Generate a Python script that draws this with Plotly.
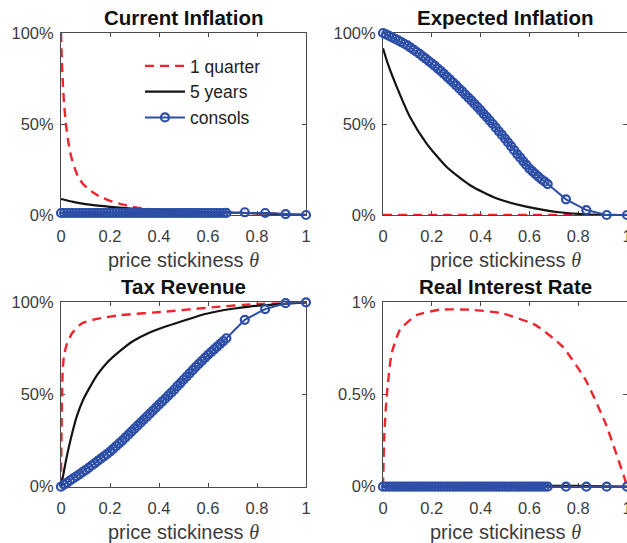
import plotly.graph_objects as go

# ---------------- data ----------------
PANEL_TITLES = ["Current Inflation", "Expected Inflation", "Tax Revenue", "Real Interest Rate"]
SERIES_NAMES = ["1 quarter", "5 years", "consols"]
X_TICKS = [0, 0.2, 0.4, 0.6, 0.8, 1]
X_TICK_TEXT = ["0", "0.2", "0.4", "0.6", "0.8", "1"]
Y_TICKS = [0, 0.5, 1]
Y_TICK_TEXT_SHARE = ["0%", "50%", "100%"]
Y_TICK_TEXT_RATE = ["0%", "0.5%", "1%"]

# 1 quarter debt
Q1_CUR_X = [0, 0.003, 0.007, 0.012, 0.02, 0.03, 0.04, 0.055, 0.07, 0.09, 0.11, 0.13, 0.16, 0.2,
            0.25, 0.3, 0.35, 0.4, 0.5, 0.6, 0.7, 0.8, 0.9, 1.0]
Q1_CUR_Y = [1.0, 0.86, 0.74, 0.62, 0.50, 0.40, 0.33, 0.26, 0.21, 0.17, 0.145, 0.125, 0.10, 0.078,
            0.058, 0.043, 0.033, 0.027, 0.02, 0.016, 0.013, 0.01, 0.006, 0.0]
Q1_EXP_X = [0, 0.25, 0.5, 0.75, 1.0]
Q1_EXP_Y = [0, 0, 0, 0, 0]
Q1_TAX_X = [0, 0.002, 0.004, 0.007, 0.012, 0.023, 0.044, 0.084, 0.146, 0.24, 0.43, 0.635, 0.785,
            0.9, 1.0]
Q1_TAX_Y = [0, 0.30, 0.50, 0.63, 0.71, 0.77, 0.83, 0.885, 0.91, 0.93, 0.95, 0.975, 0.99, 0.995, 1.0]
Q1_RIR_X = [0, 0.002, 0.005, 0.015, 0.035, 0.069, 0.137, 0.233, 0.355, 0.49, 0.627, 0.736, 0.83,
            0.913, 0.988, 1.0]
Q1_RIR_Y = [0, 0.12, 0.27, 0.49, 0.72, 0.85, 0.93, 0.96, 0.96, 0.94, 0.875, 0.76, 0.58, 0.34,
            0.054, 0.0]

# 5 year debt
Y5_CUR_X = [0, 0.05, 0.1, 0.15, 0.2, 0.25, 0.3, 0.4, 0.5, 0.6, 0.7, 0.8, 0.9, 1.0]
Y5_CUR_Y = [0.088, 0.072, 0.06, 0.052, 0.045, 0.039, 0.034, 0.026, 0.02, 0.016, 0.013, 0.009,
            0.005, 0.0]
Y5_EXP_X = [0, 0.02, 0.056, 0.11, 0.178, 0.26, 0.355, 0.464, 0.587, 0.722, 0.8, 0.886, 1.0]
Y5_EXP_Y = [0.916, 0.83, 0.705, 0.54, 0.394, 0.265, 0.165, 0.092, 0.046, 0.015, 0.006, 0.0, 0.0]
Y5_TAX_X = [0, 0.01, 0.023, 0.04, 0.064, 0.09, 0.118, 0.15, 0.186, 0.24, 0.295, 0.36, 0.43,
            0.5, 0.57, 0.635, 0.70, 0.77, 0.84, 0.92, 1.0]
Y5_TAX_Y = [0, 0.07, 0.16, 0.26, 0.38, 0.47, 0.54, 0.61, 0.67, 0.735, 0.79, 0.835, 0.87,
            0.90, 0.93, 0.95, 0.965, 0.977, 0.985, 0.993, 1.0]
Y5_RIR_X = [0, 0.2, 0.4, 0.6, 0.7, 0.8, 0.9, 1.0]
Y5_RIR_Y = [0, 0.002, 0.004, 0.005, 0.005, 0.004, 0.002, 0]

# consols (one marker per grid point)
CONS_X = [0.0, 0.0125, 0.025, 0.0375, 0.05, 0.0625, 0.075, 0.0875, 0.1, 0.1125, 0.125,
          0.1375, 0.15, 0.1625, 0.175, 0.1875, 0.2, 0.2125, 0.225, 0.2375, 0.25, 0.2625,
          0.275, 0.2875, 0.3, 0.3125, 0.325, 0.3375, 0.35, 0.3625, 0.375, 0.3875, 0.4,
          0.4125, 0.425, 0.4375, 0.45, 0.4625, 0.475, 0.4875, 0.5, 0.5125, 0.525, 0.5375,
          0.55, 0.5625, 0.575, 0.5875, 0.6, 0.6125, 0.625, 0.6375, 0.65, 0.6625, 0.675,
          0.75, 0.8333, 0.9167, 1.0]
CONS_CUR_Y = [0.011, 0.011, 0.011, 0.011, 0.011, 0.011, 0.011, 0.011, 0.011, 0.011, 0.011,
              0.011, 0.011, 0.011, 0.011, 0.011, 0.011, 0.011, 0.011, 0.011, 0.011, 0.011,
              0.011, 0.011, 0.011, 0.011, 0.011, 0.011, 0.011, 0.011, 0.011, 0.011, 0.011,
              0.011, 0.011, 0.011, 0.011, 0.011, 0.011, 0.011, 0.011, 0.011, 0.011, 0.011,
              0.011, 0.011, 0.011, 0.011, 0.011, 0.011, 0.011, 0.011, 0.011, 0.011, 0.012,
              0.015, 0.011, 0.005, 0.0]
CONS_EXP_Y = [1.000, 0.992, 0.984, 0.976, 0.968, 0.959, 0.950, 0.941, 0.932, 0.920, 0.909,
              0.897, 0.885, 0.872, 0.859, 0.846, 0.833, 0.819, 0.804, 0.790, 0.775, 0.759,
              0.744, 0.728, 0.712, 0.695, 0.679, 0.662, 0.645, 0.628, 0.610, 0.593, 0.575,
              0.556, 0.538, 0.519, 0.500, 0.480, 0.460, 0.440, 0.420, 0.399, 0.378, 0.356,
              0.335, 0.315, 0.295, 0.275, 0.255, 0.240, 0.225, 0.210, 0.195, 0.183, 0.170,
              0.086, 0.027, 0.0, 0.0]
CONS_TAX_Y = [0.000, 0.011, 0.022, 0.034, 0.045, 0.056, 0.067, 0.079, 0.090, 0.102, 0.115,
              0.127, 0.140, 0.152, 0.165, 0.177, 0.190, 0.205, 0.220, 0.235, 0.250, 0.266,
              0.282, 0.299, 0.315, 0.331, 0.347, 0.364, 0.380, 0.396, 0.412, 0.429, 0.445,
              0.461, 0.477, 0.494, 0.510, 0.527, 0.545, 0.562, 0.580, 0.597, 0.615, 0.632,
              0.650, 0.666, 0.682, 0.699, 0.715, 0.730, 0.745, 0.760, 0.775, 0.790, 0.805,
              0.905, 0.963, 0.995, 1.0]
CONS_RIR_Y = [0, 0, 0, 0, 0, 0, 0, 0, 0, 0, 0,
              0, 0, 0, 0, 0, 0, 0, 0, 0, 0, 0,
              0, 0, 0, 0, 0, 0, 0, 0, 0, 0, 0,
              0, 0, 0, 0, 0, 0, 0, 0, 0, 0, 0,
              0, 0, 0, 0, 0, 0, 0, 0, 0, 0, 0,
              0, 0, 0, 0]

# ---------------- styling ----------------
W, H = 627, 543
RED = "#f2232b"
BLACK = "#141414"
BLUE = "#2c4ea6"
AXIS_GRAY = "#4a4a4a"
TEXT_GRAY = "#3c3c3c"
FONT = "Liberation Sans, Arial, sans-serif"

# plot areas in pixels: (left, right, top, bottom)
BOXES = [(61, 306, 33, 215), (383, 627, 33, 215),
         (61, 306, 302.3, 486.7), (383, 627, 302.3, 486.7)]

panels = [
    (Q1_CUR_X, Q1_CUR_Y, Y5_CUR_X, Y5_CUR_Y, CONS_CUR_Y),
    (Q1_EXP_X, Q1_EXP_Y, Y5_EXP_X, Y5_EXP_Y, CONS_EXP_Y),
    (Q1_TAX_X, Q1_TAX_Y, Y5_TAX_X, Y5_TAX_Y, CONS_TAX_Y),
    (Q1_RIR_X, Q1_RIR_Y, Y5_RIR_X, Y5_RIR_Y, CONS_RIR_Y),
]

fig = go.Figure()
for i, (qx, qy, yx, yy, cy) in enumerate(panels):
    sfx = "" if i == 0 else str(i + 1)
    xa, ya = "x" + sfx, "y" + sfx
    first = i == 0
    fig.add_trace(go.Scatter(x=qx, y=qy, mode="lines", name=SERIES_NAMES[0], xaxis=xa, yaxis=ya,
                             line=dict(color=RED, width=2.4, dash="9px,6px", shape="spline",
                                       smoothing=0.5),
                             showlegend=first, cliponaxis=False))
    fig.add_trace(go.Scatter(x=yx, y=yy, mode="lines", name=SERIES_NAMES[1], xaxis=xa, yaxis=ya,
                             line=dict(color=BLACK, width=2.2, shape="spline", smoothing=0.6),
                             showlegend=first, cliponaxis=False))
    fig.add_trace(go.Scatter(x=CONS_X, y=cy, mode="lines+markers", name=SERIES_NAMES[2],
                             xaxis=xa, yaxis=ya,
                             line=dict(color=BLUE, width=2),
                             marker=dict(symbol="circle-open", size=8, color=BLUE,
                                         line=dict(width=2.2)),
                             showlegend=first, cliponaxis=False))

axis_common = dict(showline=True, linecolor=AXIS_GRAY, linewidth=1, mirror="ticks",
                   ticks="inside", ticklen=4, tickwidth=1, tickcolor=AXIS_GRAY,
                   showgrid=False, zeroline=False, fixedrange=True, layer="below traces",
                   automargin=False, ticklabeloverflow="allow",
                   tickfont=dict(family=FONT, size=16.5, color=TEXT_GRAY))

layout_axes = {}
annotations = []
theta_label = ("price stickiness <span style=\"font-family:'Liberation Serif', serif\">"
               "<i>θ</i></span>")
for i, (l, r, t, b) in enumerate(BOXES):
    sfx = "" if i == 0 else str(i + 1)
    layout_axes["xaxis" + sfx] = dict(
        axis_common, domain=[l / W, r / W], range=[0, 1], anchor="y" + sfx,
        tickvals=X_TICKS, ticktext=X_TICK_TEXT, ticklabelstandoff=6)
    ytext = Y_TICK_TEXT_RATE if i == 3 else Y_TICK_TEXT_SHARE
    layout_axes["yaxis" + sfx] = dict(
        axis_common, domain=[(H - b) / H, (H - t) / H], range=[0, 1], anchor="x" + sfx,
        tickvals=Y_TICKS, ticktext=ytext, ticklabelstandoff=3)
    cx = (l + r) / 2 if i % 2 == 0 else (l + 628) / 2
    annotations.append(dict(text="<b>" + PANEL_TITLES[i] + "</b>", x=cx / W, y=(H - (t - 16)) / H,
                            xref="paper", yref="paper", showarrow=False, xanchor="center",
                            yanchor="middle", font=dict(family=FONT, size=20.5, color="#111111")))
    annotations.append(dict(text=theta_label, x=cx / W, y=(H - (b + 45)) / H,
                            xref="paper", yref="paper", showarrow=False, xanchor="center",
                            yanchor="middle", font=dict(family=FONT, size=20, color=TEXT_GRAY)))

fig.update_layout(
    width=W, height=H,
    margin=dict(l=0, r=0, t=0, b=0, autoexpand=False),
    paper_bgcolor="white", plot_bgcolor="white",
    showlegend=True,
    legend=dict(x=140 / W, y=(H - 48) / H, xanchor="left", yanchor="top",
                bgcolor="rgba(0,0,0,0)", borderwidth=0, itemwidth=40,
                font=dict(family=FONT, size=17.5, color="#222222"), tracegroupgap=0),
    annotations=annotations,
    **layout_axes,
)

fig.write_html("out.html", include_plotlyjs=True, config={"displayModeBar": False},
               post_script="document.body.style.margin='0';document.body.style.overflow='hidden';")
